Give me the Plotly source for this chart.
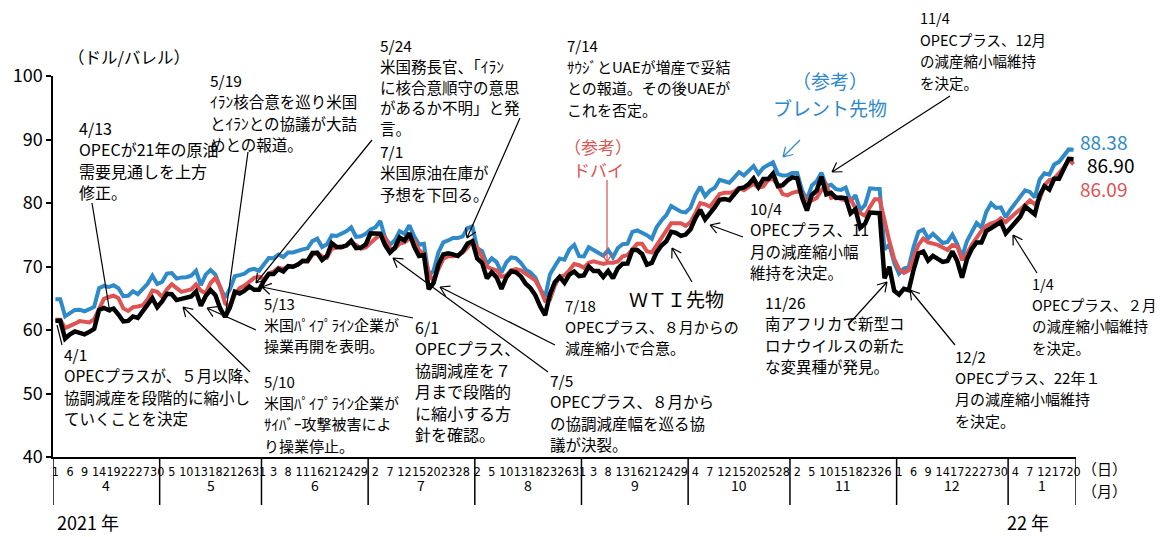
import math
import pandas as pd
import plotly.graph_objects as go

# Business days from 2021-04-01 to 2022-01-20 (211 points)
dates = pd.bdate_range("2021-04-01", "2022-01-20")

brent = [
    64.86, 64.86, 62.15, 62.74, 63.16, 63.20, 62.95, 63.28, 63.67, 66.58, 66.94, 66.77, 67.05, 66.57, 65.32, 65.40, 66.11, 65.65, 66.42, 67.27, 68.56, 67.25,
    67.56, 68.88, 68.96, 68.09, 68.28, 68.32, 68.55, 69.32, 67.05, 68.71, 69.46, 68.71, 66.66, 65.11, 66.44, 68.46, 68.65, 68.87, 69.46, 69.63, 69.32,
    70.25, 71.35, 71.31, 71.89, 71.49, 72.22, 72.22, 72.52, 72.69, 72.86, 73.99, 74.39, 73.08, 73.51, 74.90, 74.81, 75.19, 75.56, 76.18, 74.68, 74.76, 75.13,
    75.84, 76.17, 77.16, 74.53, 73.43, 74.12, 75.55, 75.16, 76.49, 74.76, 73.47, 73.59, 68.62, 69.35, 72.23, 73.79, 74.10, 74.50, 74.48, 74.74, 76.05, 76.33,
    72.89, 72.41, 70.38, 71.29, 70.70, 69.04, 70.63, 71.44, 71.31, 70.59, 69.51, 69.03, 68.23, 66.45, 65.18, 68.75, 70.05, 71.25, 71.07, 72.70, 73.41, 71.63,
    71.59, 73.03, 72.61, 72.22, 71.69, 72.60, 71.45, 72.92, 73.51, 73.60, 75.46, 75.67, 75.34, 74.92, 74.36, 76.19, 77.25, 78.09, 79.53, 79.09, 78.64, 78.52,
    79.28, 81.26, 82.56, 81.08, 81.95, 82.39, 83.65, 83.42, 83.18, 84.00, 84.86, 84.33, 85.08, 85.82, 84.61, 85.53, 85.99, 86.40, 84.58, 84.32, 84.38,
    84.71, 84.72, 81.99, 80.54, 82.74, 83.43, 84.78, 82.64, 82.87, 82.17, 82.05, 82.43, 80.28, 81.24, 78.89, 79.70, 82.31, 82.25, 82.22, 72.72, 73.44, 70.57,
    68.87, 69.67, 69.88, 73.08, 75.44, 75.82, 74.42, 75.15, 74.39, 73.70, 73.88, 75.02, 73.52, 71.52, 73.98, 75.29, 76.85, 76.14, 78.60, 79.94, 79.23, 79.32, 77.78,
    78.98, 80.00, 80.80, 81.99, 81.75, 80.87, 83.72, 84.67, 84.47, 86.06, 86.48, 87.51, 88.44, 88.38,
]

wti = [
    61.45, 61.45, 58.65, 59.33, 59.77, 59.60, 59.32, 59.70, 60.18, 63.15, 63.46, 63.13, 63.38, 62.44, 61.35, 61.43, 62.14, 61.91, 62.94, 63.86, 65.01, 63.58,
    64.49, 65.69, 65.63, 64.71, 64.90, 64.92, 65.28, 66.08, 63.82, 65.37, 66.27, 65.49, 63.36, 62.05, 63.58, 66.05, 65.76, 66.21, 66.85, 66.32, 66.32,
    67.72, 68.83, 68.81, 69.62, 69.23, 70.05, 69.96, 70.29, 70.91, 70.88, 72.12, 72.15, 71.04, 71.64, 73.66, 73.06, 73.08, 73.30, 74.05, 72.91, 72.98, 73.47,
    75.23, 75.16, 75.16, 73.37, 72.20, 72.94, 74.56, 74.10, 75.25, 73.13, 71.65, 71.81, 66.42, 67.42, 70.30, 71.91, 72.07, 71.91, 71.65, 72.39, 73.62, 73.95,
    71.26, 70.56, 68.15, 69.09, 68.28, 66.48, 68.29, 69.25, 69.09, 68.44, 67.29, 66.59, 65.46, 63.69, 62.32, 65.64, 67.54, 68.36, 67.42, 68.74, 69.21, 68.50,
    68.59, 69.99, 69.29, 69.29, 68.35, 69.30, 68.14, 69.72, 70.45, 70.46, 72.61, 72.61, 71.97, 70.29, 70.56, 72.23, 73.30, 73.98, 75.45, 75.29, 74.83, 75.03,
    75.88, 77.62, 78.93, 77.43, 78.30, 79.35, 80.52, 80.64, 80.44, 81.31, 82.28, 82.44, 82.96, 83.87, 82.50, 83.76, 83.76, 84.65, 82.66, 82.81, 83.57,
    84.05, 83.91, 80.86, 78.81, 81.27, 81.93, 84.15, 81.34, 81.59, 80.79, 80.88, 80.76, 78.36, 79.01, 76.10, 76.75, 78.50, 78.39, 78.39, 68.15, 69.95, 66.18,
    65.57, 66.50, 66.26, 69.49, 72.05, 72.36, 70.94, 71.67, 71.29, 70.73, 70.87, 72.38, 70.86, 68.23, 71.12, 72.76, 73.79, 73.79, 75.57, 75.98, 76.56, 76.99, 75.21,
    76.08, 76.99, 77.85, 79.46, 78.90, 78.23, 81.22, 82.64, 82.12, 83.82, 83.82, 85.43, 86.96, 86.90,
]

dubai = [
    61.6, 61.6, 60.3, 60.6, 61.0, 61.4, 61.3, 61.2, 61.7, 63.5, 64.9, 65.2, 65.4, 65.0, 63.4, 63.0, 63.6, 63.7, 63.9, 64.8, 66.2, 66.0,
    65.2, 66.4, 67.2, 66.6, 66.0, 66.2, 66.4, 67.2, 66.2, 65.8, 67.4, 68.2, 66.8, 64.2, 63.6, 65.6, 66.6, 67.0, 67.6, 68.2, 68.4,
    68.0, 68.9, 69.2, 69.8, 69.6, 70.0, 70.0, 70.3, 70.8, 70.8, 71.8, 72.2, 71.6, 71.4, 72.8, 73.0, 73.0, 73.3, 73.8, 73.4, 72.8, 73.0,
    73.8, 74.4, 75.0, 74.6, 72.8, 72.8, 73.6, 73.8, 74.4, 74.0, 72.6, 72.0, 69.0, 67.6, 69.6, 71.2, 71.6, 71.6, 71.8, 72.2, 73.0, 74.0,
    73.0, 71.6, 70.0, 69.6, 69.4, 68.4, 68.6, 69.4, 69.6, 69.4, 68.8, 68.4, 67.8, 66.4, 64.6, 64.8, 67.0, 68.4, 68.6, 69.4, 70.4, 70.2,
    69.8, 70.6, 70.8, 70.6, 70.4, 70.6, 70.6, 70.8, 71.6, 71.8, 72.8, 73.6, 73.6, 72.4, 72.2, 73.4, 74.6, 75.6, 76.8, 76.8, 76.8, 76.4,
    77.0, 78.4, 80.0, 79.8, 79.4, 80.4, 81.4, 81.6, 81.6, 81.8, 82.4, 82.0, 82.6, 83.0, 82.4, 82.6, 83.6, 83.8, 82.8, 81.4, 81.2,
    81.6, 81.8, 81.6, 80.0, 80.4, 80.8, 82.0, 82.8, 80.8, 81.0, 80.6, 80.4, 80.6, 79.2, 78.4, 78.0, 79.4, 80.6, 80.6, 77.2, 74.0, 71.2,
    69.6, 69.0, 69.4, 71.4, 73.4, 74.4, 73.8, 73.6, 73.4, 73.0, 72.6, 73.4, 73.2, 71.0, 72.0, 73.4, 74.6, 75.6, 76.4, 76.8, 77.0, 77.6, 77.0,
    77.6, 78.4, 79.0, 79.6, 80.4, 79.8, 80.6, 82.8, 83.6, 83.8, 84.6, 85.6, 86.8, 86.09,
]

month_labels = ["4", "5", "6", "7", "8", "9", "10", "11", "12", "1"]

BLUE = "#2e8ac8"
RED = "#e05353"
BLACK = "#000000"
JP = "Noto Sans CJK JP"
NARROW = "Liberation Sans Narrow, DejaVu Sans Condensed, Noto Sans CJK JP"

n = len(dates)
xs = list(range(n))

# Figure geometry (pixels)
W, H = 1160, 537
ML, MR, MT, MB = 53, 84, 76, 80
PW, PH = W - ML - MR, H - MT - MB


def paper(px, py):
    return (px - ML) / PW, (H - MB - py) / PH


fig = go.Figure()
fig.add_trace(go.Scatter(x=xs, y=brent, mode="lines", line=dict(color=BLUE, width=4), name="ブレント"))
fig.add_trace(go.Scatter(x=xs, y=dubai, mode="lines", line=dict(color=RED, width=4), name="ドバイ"))
fig.add_trace(go.Scatter(x=xs, y=wti, mode="lines", line=dict(color=BLACK, width=4.5), name="WTI"))

shapes = []
annotations = []

# Month separators and labels under the day ticks
month_starts = [i for i in range(n) if i == 0 or dates[i].month != dates[i - 1].month]
bounds = month_starts + [n]
y_bottom = paper(0, 505)[1]
for b in bounds:
    shapes.append(dict(type="line", xref="x", yref="paper", x0=b - 0.5, x1=b - 0.5,
                       y0=0, y1=y_bottom, line=dict(color="black", width=1.5)))
y_month = paper(0, 485)[1]
for k, lab in enumerate(month_labels):
    c = (bounds[k] + bounds[k + 1] - 1) / 2
    annotations.append(dict(x=c, y=y_month, xref="x", yref="paper", text=lab, showarrow=False,
                            font=dict(family=JP, size=14, color="black"), xanchor="center", yanchor="middle"))


def text_at(px, py, s, size=16, color="black", anchor="left"):
    xp, yp = paper(px, py)
    annotations.append(dict(x=xp, y=yp, xref="paper", yref="paper", text=s, showarrow=False,
                            font=dict(family=JP, size=size, color=color),
                            xanchor=anchor, yanchor="middle"))


def block(px, py, lines, size=16, color="black", step=21.4, anchor="left"):
    for k, s in enumerate(lines):
        text_at(px, py + k * step, s, size, color, anchor)


def pointer(tail, head, color="black", head_open=True, width=1.2):
    (x0, y0), (x1, y1) = tail, head
    a, b = paper(x0, y0)
    c, d = paper(x1, y1)
    path = f"M{a},{b} L{c},{d}"
    if head_open:
        L = math.hypot(x1 - x0, y1 - y0)
        ux, uy = (x1 - x0) / L, (y1 - y0) / L
        px_, py_ = -uy, ux
        for s in (1, -1):
            wx = x1 - 9 * ux + s * 5.5 * px_
            wy = y1 - 9 * uy + s * 5.5 * py_
            e, f = paper(wx, wy)
            path += f" M{e},{f} L{c},{d}"
    shapes.append(dict(type="path", xref="paper", yref="paper", path=path,
                       line=dict(color=color, width=width)))


# Axis captions
text_at(66, 57, "（ドル/バレル）", size=16.5)
text_at(1080, 468, "（日）", size=15)
text_at(1080, 491, "（月）", size=15)
text_at(55, 522, "2021 年", size=18)
text_at(1005, 522, "22 年", size=18)

# Event notes
block(77, 128, ["4/13", "OPECが21年の原油", "需要見通しを上方", "修正。"], size=16)
block(208, 80, ["5/19", "ｲﾗﾝ核合意を巡り米国", "とｲﾗﾝとの協議が大詰", "めとの報道。"], size=15.5)
block(378, 45, ["5/24", "米国務長官、「ｲﾗﾝ", "に核合意順守の意思", "があるか不明」と発", "言。"], size=15.5, step=20.8)
block(378, 151, ["7/1", "米国原油在庫が", "予想を下回る。"], size=15.5)
block(565, 45, ["7/14", "ｻｳｼﾞとUAEが増産で妥結", "との報道。その後UAEが", "これを否定。"], size=15)
block(918, 18, ["11/4", "OPECプラス、12月", "の減産縮小幅維持", "を決定。"], size=14.5)
block(748, 208, ["10/4", "OPECプラス、11", "月の減産縮小幅", "維持を決定。"], size=15.5)
block(262, 303, ["5/13", "米国ﾊﾟｲﾌﾟﾗｲﾝ企業が", "操業再開を表明。"], size=15)
block(413, 327, ["6/1", "OPECプラス、", "協調減産を７", "月まで段階的", "に縮小する方", "針を確認。"], size=16)
block(563, 305, ["7/18", "OPECプラス、８月からの", "減産縮小で合意。"], size=15)
block(763, 302, ["11/26", "南アフリカで新型コ", "ロナウイルスの新た", "な変異種が発見。"], size=15.5)
block(62, 354, ["4/1", "OPECプラスが、５月以降、", "協調減産を段階的に縮小し", "ていくことを決定"], size=15.5)
block(262, 381, ["5/10", "米国ﾊﾟｲﾌﾟﾗｲﾝ企業が", "ｻｲﾊﾞｰ攻撃被害によ", "り操業停止。"], size=15)
block(548, 380, ["7/5", "OPECプラス、８月から", "の協調減産幅を巡る協", "議が決裂。"], size=15.5)
block(953, 356, ["12/2", "OPECプラス、22年１", "月の減産縮小幅維持", "を決定。"], size=15)
block(1030, 283, ["1/4", "OPECプラス、２月", "の減産縮小幅維持", "を決定。"], size=14.5)

# Series names
block(830, 80, ["（参考）", "ブレント先物"], size=19, color=BLUE, step=27, anchor="center")
block(598, 146, ["（参考）", "ドバイ"], size=17, color=RED, step=23, anchor="center")
text_at(676, 298, "ＷＴＩ先物", size=19, anchor="center")

# Latest values
text_at(1078, 141, f"{brent[-1]:.2f}", size=19, color=BLUE)
text_at(1085, 164, f"{wti[-1]:.2f}", size=19, color=BLACK)
text_at(1078, 188, f"{dubai[-1]:.2f}", size=19, color=RED)

# Leader lines
pointer((92, 203), (110, 313), head_open=False)
pointer((248, 152), (225, 318), head_open=False)
pointer((372, 140), (256, 283))
pointer((520, 118), (467, 238))
pointer((62, 345), (57, 325), head_open=False)
pointer((250, 372), (183, 307))
pointer((256, 330), (207, 308))
pointer((413, 318), (262, 287))
pointer((548, 372), (393, 258))
pointer((555, 345), (440, 287))
pointer((607, 180), (607, 262), color=RED)
pointer((800, 140), (783, 157), color=BLUE)
pointer((743, 237), (710, 225))
pointer((692, 282), (672, 248))
pointer((950, 96), (832, 172))
pointer((848, 325), (887, 282))
pointer((955, 345), (910, 290))
pointer((1037, 273), (1013, 235))

day_ticks = list(range(0, n, 3))
day_labels = [str(dates[i].day) for i in day_ticks]

fig.update_layout(
    width=W, height=H,
    margin=dict(l=ML, r=MR, t=MT, b=MB, pad=0),
    paper_bgcolor="white", plot_bgcolor="white",
    showlegend=False,
    shapes=shapes, annotations=annotations,
    font=dict(family=JP, color="black"),
    xaxis=dict(range=[-0.5, n - 0.5], tickmode="array", tickvals=day_ticks, ticktext=day_labels,
               tickangle=0, ticks="", showgrid=False, zeroline=False, showline=True,
               linecolor="black", linewidth=1.5, tickfont=dict(family=NARROW, size=12.5), ticklabelstandoff=2),
    yaxis=dict(range=[40, 100], dtick=10, ticks="outside", ticklen=5, tickcolor="black", tickwidth=1.5,
               showgrid=False, zeroline=False, showline=True, linecolor="black", linewidth=1.5,
               tickfont=dict(family=JP, size=18)),
)

fig.write_html("out.html")
